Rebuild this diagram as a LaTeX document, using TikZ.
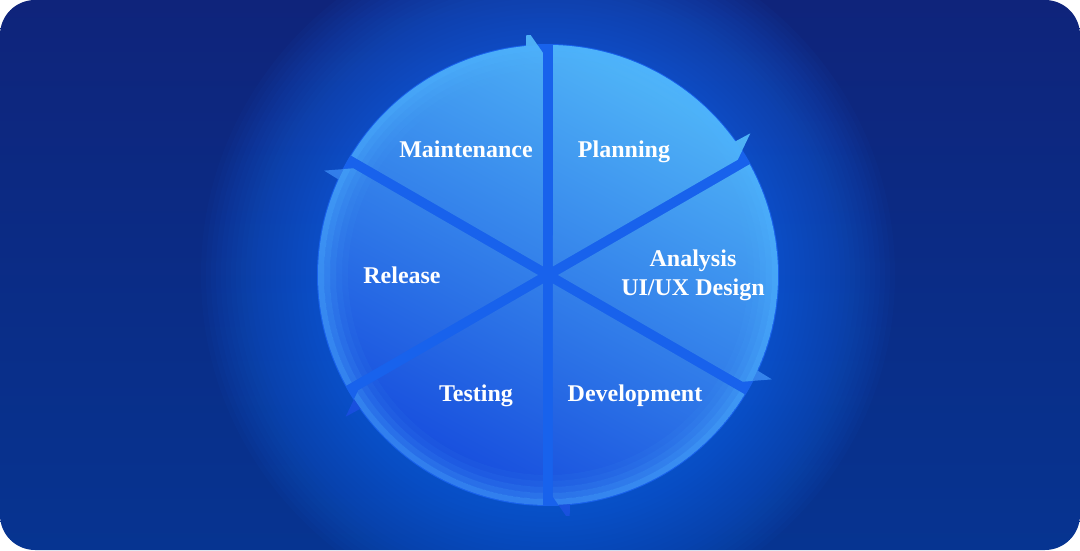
\documentclass[tikz,border=0pt]{standalone}
\usepackage{fontspec}
\setmainfont{Liberation Serif}
\usetikzlibrary{calc}
\definecolor{bgtop}{HTML}{131C70}
\definecolor{bgbot}{HTML}{023C9C}
\definecolor{glowc}{HTML}{1C6CF2}
\definecolor{gapc}{HTML}{1862EC}
\definecolor{seclight}{HTML}{52B8F8}
\definecolor{secdark}{HTML}{1448DC}
\definecolor{rimc}{HTML}{4CB2FF}
\tikzset{
  lbl/.style={text=white, font=\fontsize{24}{28}\selectfont\bfseries, anchor=base, inner sep=0pt},
}
\begin{document}
\begin{tikzpicture}
\useasboundingbox (-548pt,-275pt) rectangle (532pt,275pt);
\fill[white] (-548pt,-275pt) rectangle (532pt,275pt);
\begin{scope}
  \clip[rounded corners=35pt] (-548pt,-275pt) rectangle (532pt,275pt);
  \shade[top color=bgtop, bottom color=bgbot] (-548pt,-550pt) rectangle (532pt,550pt);
  \foreach \r in {232,237,...,347}{
    \fill[glowc, fill opacity=0.045] (0pt,0pt) circle[radius=\r pt];
  }
\end{scope}
\fill[gapc] (0pt,0pt) circle[radius=231pt];
\foreach \a in {90,30,-30,-90,-150,150}{
  \pgfmathsetmacro\secm{\a+30}
  \pgfmathsetmacro\secn{\a+90}
  \pgfmathsetmacro\sect{\a+5}
  \pgfmathsetmacro\secs{\a+5.5}
  \pgfmathsetmacro\sece{\a+60-1.25}
  \begin{scope}
    \clip (\secm:10pt) -- ([shift={(\secn:5pt)}]\a:222pt) -- (\sect:247pt) -- (\secs:230pt)
      arc[start angle=\secs, end angle=\sece, radius=230pt] -- cycle;
    \shade[top color=seclight, bottom color=secdark, shading angle=-28] (-240pt,-240pt) rectangle (240pt,240pt);
    \foreach \rr/\op in {227/0.5,221/0.34,215/0.22,209/0.12,203/0.06}{
      \draw[rimc, line width=6pt, draw opacity=\op] (0pt,0pt) circle[radius=\rr pt];
    }
  \end{scope}
}
\node[lbl] (maint) at (-82pt,118pt) {Maintenance};
\node[lbl] (plan) at (76pt,118pt) {Planning};
\node[lbl] (anal) at (145pt,9pt) {Analysis};
\node[lbl] (uiux) at (145pt,-20pt) {UI/UX Design};
\node[lbl] (rel) at (-146pt,-8pt) {Release};
\node[lbl] (test) at (-72pt,-126pt) {Testing};
\node[lbl] (dev) at (87pt,-126pt) {Development};
\end{tikzpicture}
\end{document}
